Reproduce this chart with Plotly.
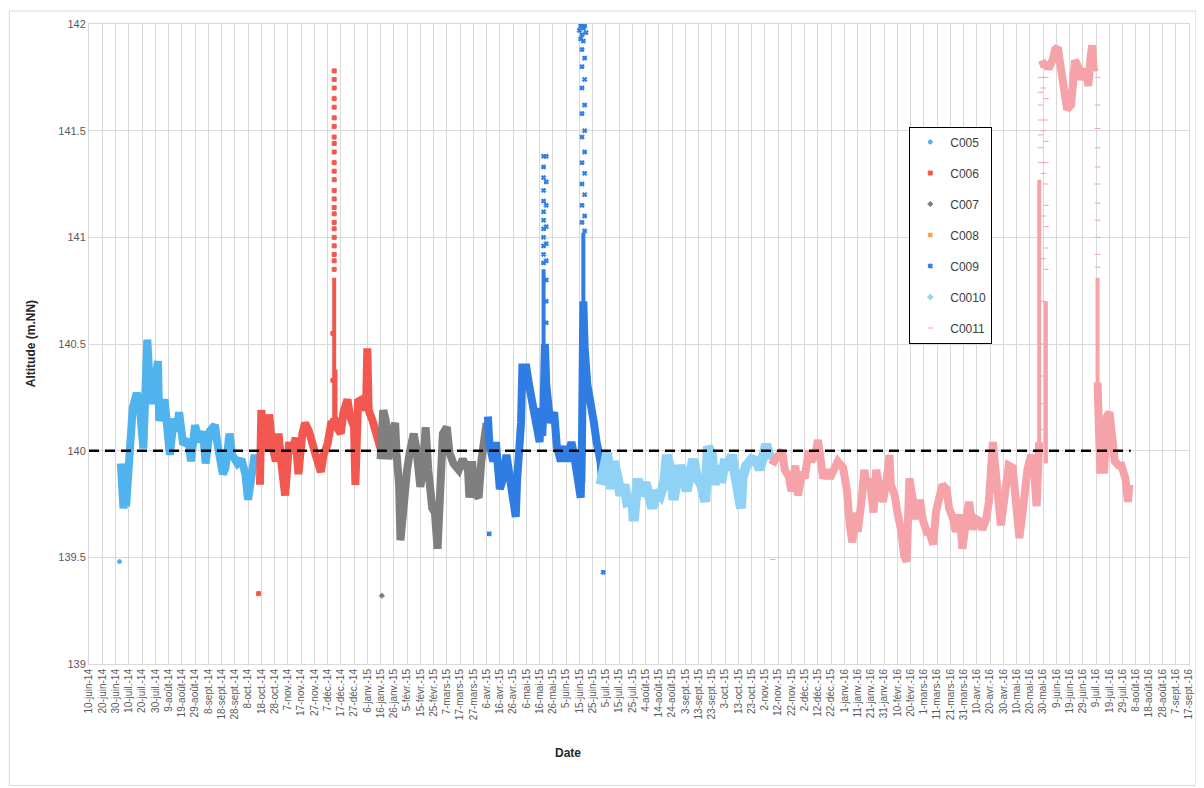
import plotly.graph_objects as go
import pandas as pd

# ---------------- data ----------------
c005_dates = ["2014-07-04","2014-07-06","2014-07-07","2014-07-08","2014-07-11","2014-07-13","2014-07-16","2014-07-18",
              "2014-07-21","2014-07-24","2014-07-26","2014-07-28","2014-08-01","2014-08-02","2014-08-06","2014-08-10",
              "2014-08-13","2014-08-15","2014-08-17","2014-08-20","2014-08-24","2014-08-26","2014-08-29","2014-09-01",
              "2014-09-04","2014-09-06","2014-09-09","2014-09-13","2014-09-15","2014-09-19","2014-09-21","2014-09-24",
              "2014-09-26","2014-09-30","2014-10-03","2014-10-06","2014-10-08","2014-10-11","2014-10-13","2014-10-15"]
c005_vals = [139.94,139.73,139.78,139.74,140.01,140.20,140.27,140.23,
             140.01,140.52,140.29,140.22,140.42,140.14,140.24,139.98,
             140.15,140.09,140.18,140.03,140.05,139.95,140.12,140.04,
             140.09,139.94,140.09,140.12,140.03,139.89,139.92,140.08,
             139.98,139.94,139.96,139.89,139.77,139.94,139.98,139.92]
c005_out_dates = ["2014-07-03"]
c005_out_vals = [139.48]
c005_spike_dates = []
c005_spike_vals = []

c006_dates = ["2014-10-17","2014-10-18","2014-10-20","2014-10-23","2014-10-24","2014-10-26","2014-10-29","2014-10-31",
              "2014-11-02","2014-11-05","2014-11-08","2014-11-10","2014-11-13","2014-11-15","2014-11-18","2014-11-20",
              "2014-11-23","2014-11-25","2014-11-28","2014-12-02","2014-12-04","2014-12-07","2014-12-09","2014-12-10",
              "2014-12-11","2014-12-12","2014-12-13","2014-12-14","2014-12-17","2014-12-19","2014-12-22","2014-12-24",
              "2014-12-27","2014-12-28","2014-12-30","2015-01-02","2015-01-05","2015-01-06","2015-01-07","2015-01-10",
              "2015-01-13","2015-01-16"]
c006_vals = [139.84,140.19,140.09,140.00,140.17,140.03,139.95,140.08,
             139.95,139.79,140.04,139.99,140.06,139.89,140.08,140.13,
             140.09,140.03,139.98,139.90,139.98,140.03,140.08,140.14,
             140.10,140.15,140.14,140.11,140.08,140.18,140.24,140.16,
             140.11,139.84,140.23,140.24,140.19,140.48,140.19,140.14,
             140.08,140.01]
c006_spike_dates = ["2014-12-12","2014-12-12",None,"2014-12-13","2014-12-13"]
c006_spike_vals = [140.10,140.81,None,140.12,140.38]
c006_out_dates = ["2014-10-16","2014-12-11","2014-12-11",
                  "2014-12-12","2014-12-12","2014-12-12","2014-12-12","2014-12-12","2014-12-12","2014-12-12","2014-12-12",
                  "2014-12-12","2014-12-12","2014-12-12","2014-12-12","2014-12-12","2014-12-12","2014-12-12","2014-12-12",
                  "2014-12-12","2014-12-12","2014-12-12","2014-12-12","2014-12-12","2014-12-12","2014-12-12","2014-12-12"]
c006_out_vals = [139.33,140.55,140.33,
                 141.78,141.74,141.70,141.65,141.61,141.56,141.52,141.47,
                 141.44,141.40,141.35,141.31,141.27,141.22,141.18,141.14,
                 141.11,141.07,141.04,141.00,140.96,140.92,140.89,140.85]

c007_dates = ["2015-01-16","2015-01-18","2015-01-20","2015-01-22","2015-01-25","2015-01-27","2015-01-28","2015-01-30",
              "2015-01-31","2015-02-02","2015-02-05","2015-02-07","2015-02-10","2015-02-12","2015-02-15","2015-02-17",
              "2015-02-19","2015-02-21","2015-02-24","2015-02-26","2015-02-28","2015-03-02","2015-03-04","2015-03-07",
              "2015-03-09","2015-03-12","2015-03-16","2015-03-19","2015-03-23","2015-03-24","2015-03-26","2015-03-28",
              "2015-03-31","2015-04-02","2015-04-05","2015-04-06"]
c007_vals = [139.96,140.19,140.14,139.96,140.09,140.13,139.99,139.84,
             139.58,139.74,139.91,139.99,140.08,140.01,139.83,139.91,
             140.11,139.91,139.73,139.71,139.54,139.81,140.08,140.11,
             139.99,139.94,139.91,139.96,139.91,139.78,139.95,139.80,
             139.78,139.95,140.07,140.13]
c007_out_dates = ["2015-01-17"]
c007_out_vals = [139.32]
c007_spike_dates = []
c007_spike_vals = []

c008_dates = []
c008_vals = []
c008_out_dates = []
c008_out_vals = []
c008_spike_dates = []
c008_spike_vals = []

c009_dates = ["2015-04-07","2015-04-08","2015-04-11","2015-04-13","2015-04-16","2015-04-18","2015-04-21","2015-04-23",
              "2015-04-26","2015-04-28","2015-04-29","2015-05-02","2015-05-03","2015-05-06","2015-05-08","2015-05-11",
              "2015-05-13","2015-05-16","2015-05-17","2015-05-18","2015-05-19","2015-05-20","2015-05-21","2015-05-22",
              "2015-05-24","2015-05-27","2015-05-29","2015-06-01","2015-06-04","2015-06-06","2015-06-09","2015-06-11",
              "2015-06-14","2015-06-16","2015-06-17","2015-06-18","2015-06-19","2015-06-21","2015-06-24","2015-06-26",
              "2015-06-28","2015-07-01","2015-07-02"]
c009_vals = [140.16,140.04,139.95,140.04,139.82,139.86,139.98,139.91,
             139.78,139.69,139.86,140.13,140.39,140.39,140.31,140.22,
             140.13,140.04,140.20,140.07,140.20,140.50,140.31,140.22,
             140.13,140.18,140.02,139.95,140.02,139.95,140.04,139.98,
             139.86,139.78,140.05,140.70,140.48,140.31,140.22,140.13,
             140.04,139.95,139.86]
c009_spike_dates = ["2015-05-19","2015-05-19",None,"2015-06-18","2015-06-18"]
c009_spike_vals = [140.10,140.85,None,139.85,141.02]
c009_out_dates = ["2015-04-08","2015-07-03",
                  "2015-05-19","2015-05-19","2015-05-19","2015-05-19","2015-05-19","2015-05-19","2015-05-19",
                  "2015-05-19","2015-05-19","2015-05-19","2015-05-19","2015-05-19",
                  "2015-05-21","2015-05-21","2015-05-21","2015-05-21","2015-05-21","2015-05-21","2015-05-21",
                  "2015-05-21","2015-05-21",
                  "2015-06-17","2015-06-17","2015-06-17","2015-06-17","2015-06-17","2015-06-17","2015-06-17",
                  "2015-06-17","2015-06-17",
                  "2015-06-19","2015-06-19","2015-06-19","2015-06-19","2015-06-19","2015-06-19","2015-06-19",
                  "2015-06-19","2015-06-19",
                  "2015-06-15","2015-06-16","2015-06-16","2015-06-17","2015-06-17","2015-06-18","2015-06-18",
                  "2015-06-19","2015-06-20"]
c009_out_vals = [139.61,139.43,
                 141.38,141.33,141.28,141.22,141.17,141.12,141.08,
                 141.04,141.00,140.96,140.92,140.88,
                 141.38,141.26,141.15,141.05,140.97,140.89,140.80,
                 140.70,140.60,
                 141.88,141.80,141.70,141.58,141.47,141.35,141.25,
                 141.15,141.07,
                 141.84,141.74,141.62,141.50,141.40,141.30,141.20,
                 141.10,141.03,
                 141.97,141.99,141.93,142.00,141.95,141.98,141.92,
                 141.99,141.96]

c0010_dates = ["2015-07-01","2015-07-04","2015-07-06","2015-07-09","2015-07-11","2015-07-14","2015-07-16","2015-07-19",
               "2015-07-21","2015-07-25","2015-07-26","2015-07-29","2015-07-31","2015-08-04","2015-08-07","2015-08-09",
               "2015-08-12","2015-08-15","2015-08-18","2015-08-20","2015-08-23","2015-08-25","2015-08-28","2015-08-30",
               "2015-09-02","2015-09-04","2015-09-07","2015-09-09","2015-09-12","2015-09-15","2015-09-18","2015-09-20",
               "2015-09-23","2015-09-25","2015-09-28","2015-09-30","2015-10-03","2015-10-05","2015-10-08","2015-10-10",
               "2015-10-13","2015-10-15","2015-10-16","2015-10-19","2015-10-23","2015-10-27","2015-10-29","2015-11-01",
               "2015-11-03","2015-11-06"]
c0010_vals = [139.84,139.91,139.99,139.82,139.95,139.87,139.79,139.84,
              139.76,139.77,139.67,139.87,139.79,139.85,139.77,139.73,
              139.81,139.79,139.85,139.98,139.91,139.77,139.87,139.93,
              139.87,139.81,139.91,139.96,139.87,139.84,139.76,140.02,
              139.98,139.84,139.93,139.85,139.96,139.91,139.98,139.90,
              139.84,139.73,139.87,139.93,139.96,139.95,139.91,139.99,
              140.03,139.96]
c0010_out_dates = []
c0010_out_vals = []
c0010_spike_dates = []
c0010_spike_vals = []

c0011_dates = ["2015-11-06","2015-11-09","2015-11-11","2015-11-15","2015-11-17","2015-11-20","2015-11-22","2015-11-25",
               "2015-11-27","2015-11-30","2015-12-02","2015-12-05","2015-12-07","2015-12-10","2015-12-12","2015-12-14",
               "2015-12-16","2015-12-19","2015-12-21","2015-12-24","2015-12-27","2015-12-31","2016-01-03","2016-01-05",
               "2016-01-07","2016-01-09","2016-01-11","2016-01-14","2016-01-16","2016-01-18","2016-01-20","2016-01-23",
               "2016-01-25","2016-01-28","2016-01-30","2016-02-02","2016-02-04","2016-02-05","2016-02-08","2016-02-10",
               "2016-02-13","2016-02-15","2016-02-17","2016-02-19","2016-02-21","2016-02-24","2016-02-27","2016-02-29",
               "2016-03-03","2016-03-05","2016-03-08","2016-03-10","2016-03-13","2016-03-15","2016-03-18","2016-03-20",
               "2016-03-23","2016-03-25","2016-03-28","2016-03-30","2016-04-02","2016-04-04","2016-04-07","2016-04-09",
               "2016-04-12","2016-04-14","2016-04-17","2016-04-19","2016-04-22","2016-04-24","2016-04-27","2016-04-28",
               "2016-05-01","2016-05-04","2016-05-07","2016-05-09","2016-05-12","2016-05-15","2016-05-18","2016-05-21",
               "2016-05-23","2016-05-25","2016-05-27","2016-05-28","2016-05-29","2016-05-31","2016-06-01","2016-06-03",
               "2016-06-06","2016-06-08","2016-06-10","2016-06-12","2016-06-15","2016-06-17","2016-06-20","2016-06-21",
               "2016-06-23","2016-06-26","2016-06-28","2016-07-01","2016-07-03","2016-07-05","2016-07-06","2016-07-07",
               "2016-07-09","2016-07-09","2016-07-10","2016-07-12","2016-07-15","2016-07-17","2016-07-19","2016-07-21",
               "2016-07-23","2016-07-26","2016-07-28","2016-07-31","2016-08-02","2016-08-03"]
c0011_vals = [139.96,139.95,139.97,140.00,139.91,139.88,139.81,139.93,
              139.79,139.90,139.87,140.00,139.95,139.98,140.05,139.91,
              139.87,139.91,139.87,139.91,139.95,139.92,139.81,139.65,
              139.57,139.71,139.62,139.77,139.91,139.82,139.87,139.71,
              139.91,139.81,139.76,139.87,139.98,139.84,139.79,139.71,
              139.62,139.51,139.48,139.87,139.77,139.68,139.77,139.68,
              139.62,139.62,139.56,139.71,139.79,139.84,139.82,139.73,
              139.68,139.62,139.70,139.54,139.68,139.76,139.63,139.68,
              139.67,139.63,139.68,139.76,140.04,139.92,139.79,139.65,
              139.79,139.93,139.92,139.75,139.59,139.74,139.91,139.98,
              139.91,139.74,140.04,None,141.83,141.80,141.82,141.79,
              141.83,141.88,141.89,141.79,141.69,141.60,141.62,141.74,
              141.83,141.79,141.74,141.79,141.71,141.86,141.90,141.79,
              141.80,None,140.32,139.91,139.91,140.16,140.18,140.04,
              139.95,139.93,139.93,139.87,139.76,139.84]
c0011_spike_dates = ["2016-05-27","2016-05-27",None,"2016-06-01","2016-06-01",None,"2016-07-10","2016-07-10"]
c0011_spike_vals = [140.04,141.27,None,139.94,140.70,None,140.81,140.20]
c0011_out_dates = ["2015-11-08",
                   "2016-05-28","2016-05-28","2016-05-28","2016-05-28","2016-05-28","2016-05-28","2016-05-28",
                   "2016-05-30","2016-05-30","2016-05-30","2016-05-30","2016-05-30","2016-05-30","2016-05-30",
                   "2016-05-30","2016-05-30","2016-05-30",
                   "2016-06-01","2016-06-01","2016-06-01","2016-06-01","2016-06-01","2016-06-01","2016-06-01",
                   "2016-06-01","2016-06-01","2016-06-01",
                   "2016-07-10","2016-07-10","2016-07-10","2016-07-10","2016-07-10","2016-07-10","2016-07-10",
                   "2016-07-10","2016-07-10","2016-07-10","2016-07-10"]
c0011_out_vals = [139.49,
                  141.75,141.68,141.62,141.55,141.48,141.42,141.35,
                  141.70,141.50,141.30,141.10,140.90,140.70,140.50,
                  140.35,140.22,140.10,
                  141.75,141.65,141.55,141.45,141.35,141.25,141.15,
                  141.05,140.95,140.85,
                  141.75,141.62,141.51,141.42,141.33,141.25,141.16,
                  141.08,141.00,140.92,140.86]

ref_dates = ["2014-06-10", "2016-08-04"]
ref_vals = [140, 140]

series_names = ["C005", "C006", "C007", "C008", "C009", "C0010", "C0011"]
series_colors = ["#4fb3ee", "#f2584f", "#7f7f7f", "#f5a04a", "#2f7de2", "#8fd2f5", "#f5a2a9"]
series_symbols = ["circle", "square", "diamond", "x", "x", "cross", "line-ew-open"]
series_widths = [8, 8, 8, 8, 8, 10, 8]

tick_start = "2014-06-10"
tick_end = "2016-09-17"
month_fr = ["janv.", "févr.", "mars", "avr.", "mai", "juin", "juil.", "août", "sept.", "oct.", "nov.", "déc."]

# ---------------- figure ----------------
lines = [(c005_dates, c005_vals), (c006_dates, c006_vals), (c007_dates, c007_vals), (c008_dates, c008_vals),
         (c009_dates, c009_vals), (c0010_dates, c0010_vals), (c0011_dates, c0011_vals)]
spikes = [(c005_spike_dates, c005_spike_vals), (c006_spike_dates, c006_spike_vals),
          (c007_spike_dates, c007_spike_vals), (c008_spike_dates, c008_spike_vals),
          (c009_spike_dates, c009_spike_vals), (c0010_spike_dates, c0010_spike_vals),
          (c0011_spike_dates, c0011_spike_vals)]
outs = [(c005_out_dates, c005_out_vals), (c006_out_dates, c006_out_vals), (c007_out_dates, c007_out_vals),
        (c008_out_dates, c008_out_vals), (c009_out_dates, c009_out_vals), (c0010_out_dates, c0010_out_vals),
        (c0011_out_dates, c0011_out_vals)]

fig = go.Figure()
for i, name in enumerate(series_names):
    col = series_colors[i]
    lx, ly = lines[i]
    if lx:
        fig.add_trace(go.Scatter(x=lx, y=ly, mode="lines", name=name, legendgroup=name, showlegend=False,
                                 line=dict(color=col, width=series_widths[i]), connectgaps=False,
                                 hoverinfo="skip"))
    sx, sy = spikes[i]
    if sx:
        fig.add_trace(go.Scatter(x=sx, y=sy, mode="lines", name=name, legendgroup=name, showlegend=False,
                                 line=dict(color=col, width=4), connectgaps=False, hoverinfo="skip"))
    ox, oy = outs[i]
    if not ox:
        ox, oy = [None], [None]
    fig.add_trace(go.Scatter(x=ox, y=oy, mode="markers", name=name, legendgroup=name, showlegend=True,
                             marker=dict(color=col, size=4, symbol=series_symbols[i],
                                         line=dict(color=col, width=1))))

fig.add_trace(go.Scatter(x=ref_dates, y=ref_vals, mode="lines", showlegend=False,
                         line=dict(color="black", width=2.5, dash="10px,6px"), hoverinfo="skip"))

ticks = pd.date_range(tick_start, tick_end, freq="10D")
tick_text = [f"{d.day}-{month_fr[d.month - 1]}-{d.strftime('%y')}" for d in ticks]

grid = "#d9d9d9"
font_family = "Liberation Sans, Arial, sans-serif"

# page body has an 8px margin: figure is shrunk so the chart sits where the reference has it
fig.update_layout(
    width=1196, height=780,
    margin=dict(l=81, r=10, t=13, b=124),
    paper_bgcolor="white", plot_bgcolor="white",
    font=dict(family=font_family, color="#595959"),
    showlegend=True,
    legend=dict(x=0.7457, y=0.8398, xanchor="left", yanchor="top",
                bgcolor="white", bordercolor="black", borderwidth=1,
                font=dict(size=12, color="#404040"), tracegroupgap=12, itemwidth=30),
    xaxis=dict(type="date", range=[tick_start, tick_end], tickmode="array",
               tickvals=ticks, ticktext=tick_text, tickangle=-90,
               tickfont=dict(size=10, color="#595959"),
               showgrid=True, gridcolor=grid, gridwidth=1,
               showline=True, linecolor=grid, mirror=True, ticks="", zeroline=False),
    yaxis=dict(range=[139, 142], dtick=0.5, tick0=139,
               tickfont=dict(size=11, color="#595959"),
               showgrid=True, gridcolor=grid, gridwidth=1,
               showline=True, linecolor=grid, mirror=True, ticks="", zeroline=False),
    annotations=[
        dict(text="<b>Altitude (m.NN)</b>", xref="paper", yref="paper", x=-0.0525, y=0.5,
             xanchor="center", yanchor="middle",
             textangle=-90, showarrow=False, font=dict(size=12, color="#262626")),
        dict(text="<b>Date</b>", xref="paper", yref="paper", x=0.4353, y=-0.1384,
             xanchor="center", yanchor="middle",
             showarrow=False, font=dict(size=12, color="#262626")),
    ],
    shapes=[dict(type="rect", xref="paper", yref="paper", x0=-0.0724, x1=1.0063, y0=-0.1897, y1=1.0202,
                 line=dict(color="#d9d9d9", width=1), fillcolor="rgba(0,0,0,0)", layer="below")],
)

fig.write_html("out.html")
